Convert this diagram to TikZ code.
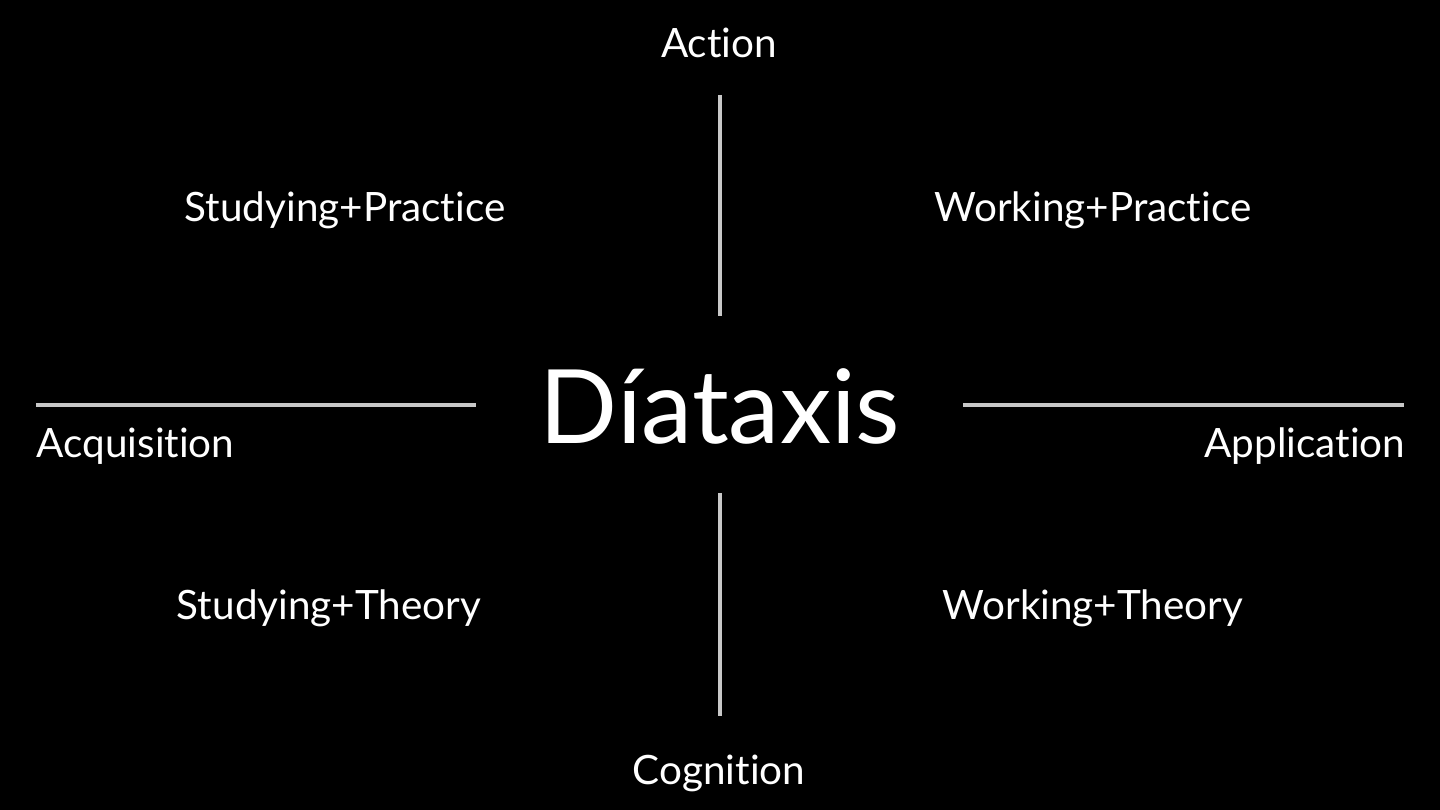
\documentclass[tikz,border=0pt]{standalone}
\usepackage{fontspec}
\setmainfont{Lato}[RawFeature=-liga]
\usepackage{xcolor}
\definecolor{axisgray}{RGB}{200,200,200}

\begin{document}
\begin{tikzpicture}[x=0.01cm,y=-0.01cm,
    axisline/.style={draw=axisgray,line width=1.2pt},
    label/.style={text=white,font=\fontsize{11.5}{13}\selectfont,inner sep=0pt,anchor=base}]
                \fill[black] (0,0) rectangle (1440,810);
                \useasboundingbox (0,0) rectangle (1440,810);
                
                \node[text=white,font=\fontsize{29.2}{33}\selectfont,inner sep=0pt,anchor=base] (title) at (720,444) {Díataxis};
                
                \node[label] (action) at (719,58) {Action};
                \node[label] (cognition) at (719,784) {Cognition};
                \node[label,anchor=base west] (acquisition) at (36,458) {Acquisition};
                \node[label,anchor=base east] (application) at (1406,458) {Application};
                
                \foreach \q/\x/\y in {studypractice/345/222, workpractice/1093/222, studytheory/329/619, worktheory/1093/619} {
                    \coordinate (\q) at (\x,\y);
                }
                \node[label] at (studypractice) {Studying+Practice};
                \node[label] at (workpractice) {Working+Practice};
                \node[label] at (studytheory) {Studying+Theory};
                \node[label] at (worktheory) {Working+Theory};
                
                % draw axes
                \coordinate (top1) at (720,95);
                \coordinate (top2) at (720,316);
                \coordinate (bot1) at (720,493);
                \coordinate (bot2) at (720,716);
                \coordinate (left1) at (36,405);
                \coordinate (left2) at (476,405);
                \coordinate (right1) at (963,405);
                \coordinate (right2) at (1404,405);
                \draw[axisline] (top1) -- (top2);
                \draw[axisline] (bot1) -- (bot2);
                \draw[axisline] (left1) -- (left2);
                \draw[axisline] (right1) -- (right2);
\end{tikzpicture}
\end{document}
